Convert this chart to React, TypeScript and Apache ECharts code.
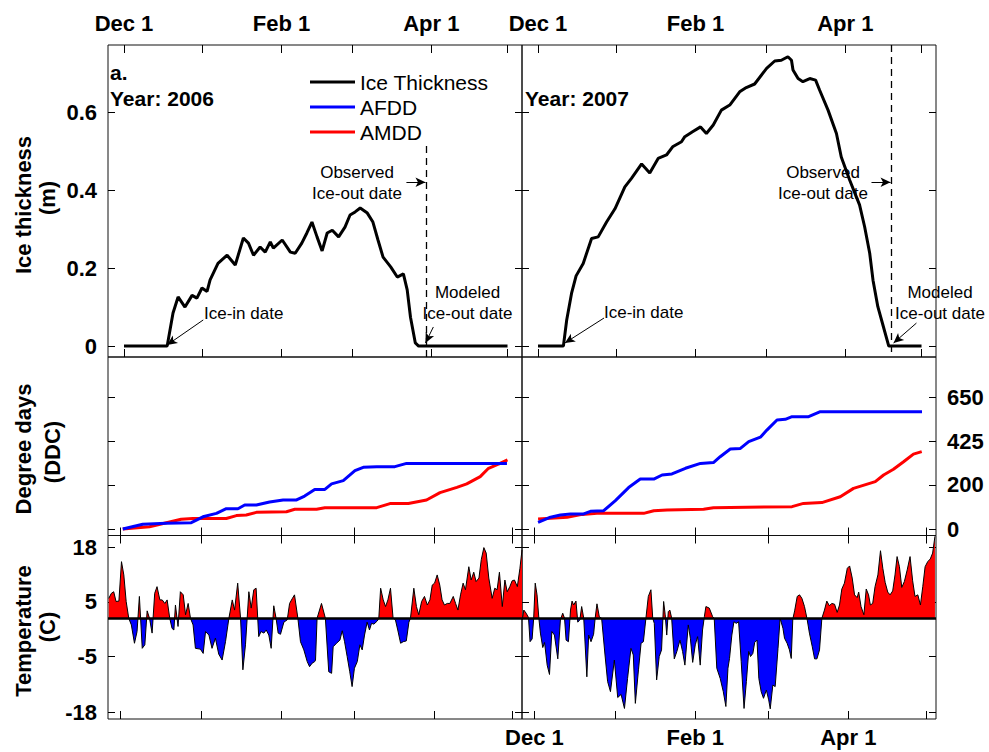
import React, { useEffect, useRef } from 'react';
import * as echarts from 'echarts';

const FONT = '"Liberation Sans", Arial, Helvetica, sans-serif';

// ---------- axes: ticks & labels ----------
const monthTickDays = [0, 31, 62, 90, 121, 151]; // Dec1, Jan1, Feb1, Mar1, Apr1, May1 (days since Dec 1)
const monthLabelDays = [0, 62, 121];
const monthLabels = ['Dec 1', 'Feb 1', 'Apr 1'];

const iceTicks = [0, 0.2, 0.4, 0.6];
const iceTickLabels = ['0', '0.2', '0.4', '0.6'];

const ddcTicks = [0, 216.7, 433.3, 650];
const ddcTickLabels = ['0', '200', '425', '650'];

const tempTicks = [18.15, 4.23, -9.82, -24.1];
const tempTickLabels = ['18', '5', '-5', '-18'];

// ---------- data: [day since Dec 1, value] ----------
const ice2006 = [
  [0, 0], [17, 0], [19.3, 0.085], [21.3, 0.126], [24, 0.1], [26.8, 0.13], [28.7, 0.123], [30.7, 0.149],
  [32.7, 0.14], [33.9, 0.17], [37, 0.212], [40.6, 0.233], [43.8, 0.208], [47, 0.277], [49, 0.264], [51, 0.233],
  [53.6, 0.254], [55.6, 0.241], [57.6, 0.267], [58.8, 0.251], [62.3, 0.272], [65.5, 0.241], [67.4, 0.238],
  [70, 0.264], [72, 0.29], [74, 0.318], [76, 0.28], [78, 0.244], [80, 0.29], [82, 0.297], [84.5, 0.28],
  [87, 0.305], [89, 0.336], [91, 0.344], [93, 0.354], [95.8, 0.341], [98, 0.318], [100, 0.272], [102, 0.228],
  [105, 0.203], [107.6, 0.177], [110, 0.185], [111.5, 0.144], [112.8, 0.074], [114.7, 0.008], [116, 0], [151, 0],
];
const ice2007 = [
  [0, 0], [10, 0], [11.3, 0.067], [13.2, 0.135], [15, 0.18], [17.8, 0.212], [21.1, 0.276], [23.7, 0.28],
  [27, 0.318], [30.3, 0.352], [34.2, 0.408], [36.8, 0.43], [40.8, 0.467], [44, 0.444], [47.3, 0.481],
  [50.6, 0.49], [53, 0.511], [56.5, 0.524], [57.8, 0.537], [61, 0.55], [64, 0.562], [66.3, 0.545], [69, 0.567],
  [72.2, 0.605], [75.5, 0.618], [79.4, 0.652], [82, 0.663], [85.3, 0.672], [90, 0.712], [93.2, 0.731],
  [95.8, 0.733], [98.4, 0.742], [99.8, 0.733], [100.4, 0.708], [102.4, 0.686], [104.3, 0.678], [107, 0.686],
  [109.3, 0.682], [110.9, 0.656], [114.2, 0.605], [117.5, 0.545], [119.4, 0.485], [122.7, 0.426],
  [126.6, 0.362], [128.6, 0.306], [130.6, 0.238], [131.9, 0.169], [133.8, 0.101], [135.8, 0.054], [138.1, 0],
  [151, 0],
];

const afdd2006 = [
  [0.9, 0], [8.6, 23], [17.6, 28], [27.3, 31], [31.8, 60], [37, 77], [40.8, 100], [45.3, 100], [47.9, 118],
  [52.4, 118], [57.5, 133], [62.7, 143], [67.9, 143], [71, 162], [74.9, 195], [78.8, 195], [81.4, 222],
  [85.9, 238], [90.4, 287], [93.6, 304], [98.8, 307], [105.8, 307], [110.3, 323], [149, 323],
];
const amdd2006 = [
  [0.9, 0], [11.2, 11], [23.4, 48], [27.9, 52], [40.8, 52], [44.7, 66], [48.5, 69], [52.4, 82], [64, 85],
  [67.2, 97], [75.6, 97], [78.8, 105], [98.8, 105], [103.9, 125], [111, 126], [118, 143], [123.2, 179],
  [129.7, 205], [133.5, 222], [138.7, 258], [141.9, 299], [145.7, 319], [149.2, 340],
];
const afdd2007 = [
  [1.4, 33], [6.2, 58], [10, 69], [13.9, 74], [19, 74], [21.6, 87], [26.7, 90], [31.2, 140], [36.3, 204],
  [40.8, 246], [46, 246], [49.2, 266], [53, 271], [58.2, 299], [64, 323], [69, 327], [71.6, 356], [75.5, 394],
  [79.4, 397], [82.6, 430], [87.1, 452], [89.6, 487], [93.5, 537], [96.7, 540], [99.3, 553], [105.7, 553],
  [110.2, 578], [149.4, 578],
];
const amdd2007 = [
  [1.4, 49], [12.6, 58], [18.4, 72], [24.1, 77], [42.1, 77], [46, 90], [51.1, 94], [65.2, 97], [69, 105],
  [99.3, 110], [103.7, 126], [110.8, 130], [117.9, 159], [123, 200], [131.4, 233], [134.6, 266], [138.4, 294],
  [142.3, 331], [146.1, 369], [149.3, 381],
];

const temp2006 = [
  [-4.5, 5.1], [-3.5, 6.4], [-2.6, 6.8], [-1.7, 4.3], [-0.6, 4.4], [0.4, 14.5], [1.3, 11.1], [2.2, 4.3], [3.2, 0],
  [4.2, -1.7], [5.4, -6.4], [6.4, -3.4], [7.3, 5.6], [8.4, -7.7], [9.4, -6.8], [10.3, 1.9], [11.2, 0], [12.2, -3.8],
  [13.2, 6.4], [14.1, 8.1], [15.2, 4.7], [16.1, 4.7], [17.1, 3.8], [18.0, 4.7], [19.0, 0], [19.9, -2.6],
  [20.6, -3.0], [21.2, 3.4], [22.2, -2.1], [23.1, 6.8], [24.2, 6.0], [25.1, 0.9], [26.1, 3.8], [27.0, 0],
  [28.0, -1.7], [28.9, -7.7], [30.8, -7.9], [31.9, -9.0], [32.8, -3.4], [34.1, -4.3], [35.3, -7.7], [36.6, -5.1],
  [37.9, -9.2], [39.2, -10.7], [40.5, -6.0], [41.8, 0], [43.1, 4.7], [44.0, 2.1], [45.2, 9.0], [46.3, 0],
  [47.2, -13.2], [48.2, -6.8], [49.5, 6.8], [50.4, 2.6], [51.4, 7.3], [52.3, 7.7], [53.3, -4.7], [54.2, -3.4],
  [55.3, -3.8], [56.2, -3.0], [57.2, -4.3], [58.1, -7.7], [59.1, 3.2], [60.0, 0], [60.8, -3.8], [61.7, -4.1],
  [63.0, -1.0], [64.3, -0.4], [65.2, 3.8], [66.2, 5.0], [67.1, 6.0], [68.4, 0], [69.4, -6.0], [70.7, -8.1],
  [72.0, -11.1], [72.9, -12.4], [73.9, -11.5], [74.9, -11.1], [75.2, -10.7], [75.8, 0], [77.5, 3.8], [79.0, 0],
  [80.3, -13.7], [81.4, -14.1], [82.0, -7.3], [83.3, -6.4], [84.6, -5.6], [85.5, -3.2], [86.4, -6.0], [87.4, -9.8],
  [88.4, -13.7], [89.3, -17.5], [90.2, -12.8], [91.3, -11.1], [92.3, -6.8], [93.2, -8.1], [94.1, -4.3],
  [95.1, -1.0], [96.0, -3.0], [96.8, -1.3], [97.7, -1.5], [99.0, -0.7], [99.6, 0], [100.3, 7.7], [101.3, 4.7],
  [102.2, 3.0], [103.1, 4.7], [104.1, 7.7], [105.1, 0], [106.0, -0.4], [106.9, -3.0], [108.0, -6.4], [109.0, -6.0],
  [110.2, -5.8], [111.2, -1.0], [111.8, 0], [113.1, 7.7], [114.1, 3.0], [115.0, 0.9], [116.1, 4.3], [117.2, 5.6],
  [118.3, 3.4], [119.3, 4.7], [120.2, 8.5], [121.1, 9.0], [122.1, 11.1], [123.1, 8.5], [124.0, 4.7], [124.9, 3.4],
  [126.0, 3.8], [127.0, 3.8], [128.3, 5.6], [129.2, 3.8], [130.1, 2.1], [131.1, 6.0], [132.1, 9.0], [133.0, 7.3],
  [134.3, 13.2], [135.2, 9.8], [136.2, 11.8], [137.1, 9.4], [138.2, 10.3], [139.1, 15.0], [140.1, 18.1],
  [141.0, 16.7], [142.0, 10.3], [143.3, 5.1], [144.3, 7.7], [145.2, 7.3], [146.1, 11.8], [147.2, 3.0],
  [148.2, 9.8], [149.1, 6.8], [150.1, 8.1], [151.0, 9.6], [151.9, 9.8], [153.0, 8.1], [154.0, 12.8], [154.8, 17.5],
];
const temp2007 = [
  [-4.7, -0.4], [-4.1, 2.1], [-3.2, 1.3], [-2.3, 0.2], [-1.7, -6.0], [-0.9, -5.3], [-0.3, 0], [0.3, 9.0], [1.0, 6.0],
  [1.7, 0], [2.3, -3.8], [3.2, -7.5], [3.9, -6.2], [4.9, -12.0], [5.8, -14.4], [6.7, -3.4], [7.7, -4.3],
  [9.0, -10.4], [10.0, -0.4], [10.9, 1.3], [11.6, 0], [12.2, -5.6], [13.1, -6.0], [13.9, 2.1], [14.5, 4.4],
  [15.1, 3.4], [16.0, 4.4], [16.7, -1.0], [17.5, -0.4], [18.2, 3.0], [19.0, 0], [20.2, -15.0], [20.9, -4.3],
  [21.8, -6.0], [22.8, -4.1], [23.4, 0], [24.1, 3.7], [25.0, 0.4], [25.9, 0], [27.2, -9.4], [28.2, -16.2],
  [29.3, -18.8], [30.8, -10.7], [32.1, -20.3], [33.4, -19.5], [34.7, -23.1], [35.9, -15.4], [37.2, -7.7],
  [38.1, -9.4], [38.9, -21.8], [40.1, -13.2], [41.1, -6.4], [42.0, -6.0], [43.0, 0.2], [43.9, 5.6], [44.9, 7.3],
  [45.6, 0], [46.2, -1.3], [47.1, -15.8], [48.1, -9.8], [49.0, -8.1], [49.8, 4.3], [50.4, 0.9], [51.0, -4.3],
  [51.6, 1.7], [52.2, 2.1], [52.9, 0], [53.9, -10.4], [54.9, -8.5], [56.1, -5.6], [57.1, -8.5], [58.0, -12.0],
  [59.3, -1.7], [60.1, -5.1], [61.0, -11.3], [62.0, -6.8], [62.9, -4.7], [63.9, -12.0], [64.8, -3.0], [65.5, 0.4],
  [66.1, 3.0], [67.4, 2.6], [68.7, 0.4], [69.3, 0], [70.3, -12.8], [71.6, -15.4], [72.8, -18.8], [73.8, -22.6],
  [74.6, -12.8], [75.2, -10.3], [76.1, -4.3], [76.9, -0.9], [77.8, -1.3], [78.7, -0.9], [79.7, -11.1],
  [80.8, -23.1], [81.7, -16.2], [82.6, -8.5], [83.3, -9.8], [84.2, -9.0], [84.9, -6.2], [85.8, -5.6], [86.5, -15.4],
  [87.4, -18.8], [88.3, -20.5], [89.4, -18.4], [90.3, -20.9], [90.9, -23.2], [91.9, -17.1], [92.8, -17.5],
  [93.9, -7.7], [94.7, 0], [95.8, -2.6], [96.4, -5.1], [97.4, -6.4], [98.3, -8.1], [99.0, -10.3], [99.6, -0.2],
  [100.3, 1.9], [101.3, 5.6], [102.2, 6.0], [103.1, 5.1], [104.1, 3.0], [105.1, -0.2], [106.0, -3.8],
  [107.1, -7.3], [108.0, -10.4], [108.9, -10.4], [109.9, -8.1], [110.8, 0], [111.8, 2.1], [112.7, 4.4],
  [113.7, 3.2], [114.6, 3.8], [115.7, 3.6], [116.7, 1.5], [117.6, 3.4], [118.5, 7.5], [119.5, 9.0], [120.6, 12.8],
  [121.5, 13.4], [122.5, 10.3], [123.4, 6.0], [124.4, 5.3], [125.0, 6.7], [125.9, 3.0], [127.0, 0.9], [127.9, 7.5],
  [128.8, 6.0], [129.5, 3.4], [130.4, 3.8], [131.3, 8.1], [132.4, 11.1], [133.4, 17.3], [134.3, 12.8],
  [135.2, 9.2], [136.2, 6.7], [137.1, 6.0], [138.1, 7.0], [139.0, 11.1], [139.8, 15.8], [140.7, 13.2],
  [141.6, 7.9], [142.6, 9.4], [143.7, 12.4], [144.8, 15.8], [145.8, 9.6], [146.7, 5.6], [147.8, 6.0], [148.8, 3.4],
  [149.7, 8.1], [150.6, 13.2], [151.6, 14.5], [152.6, 15.2], [153.5, 16.7], [154.4, 21.0],
];

// annotation anchor points in data coordinates [day, thickness]
const obsIceOut2006 = 119.1;
const obsIceOut2007 = 139.2;
const arrows2006 = [
  [[111.2, 0.42], [118.7, 0.42]],
  [[121.8, 0.049], [118.7, 0.008]],
  [[31.2, 0.067], [17.0, 0.003]],
];
const arrows2007 = [
  [[131.3, 0.42], [138.8, 0.42]],
  [[149.0, 0.059], [140.0, 0.008]],
  [[26.0, 0.072], [10.6, 0.008]],
];

const nearest = (ticks: number[], labels: string[]) => (v: number) => {
  let b = 0;
  for (let i = 1; i < ticks.length; i++) if (Math.abs(ticks[i] - v) < Math.abs(ticks[b] - v)) b = i;
  return labels[b];
};

function buildOption() {
  const ICE_Y = [-0.028, 0.772];
  const DDC_Y = [-32, 847];
  const TEMP_Y = [-25.8, 21.2];
  const XA = [-6.3, 156.7];
  const XB = [-4.8, 154.8];
  const panels = [
    { left: 108, top: 45, h: 312, x: XA, y: ICE_Y, yt: iceTicks, yl: iceTickLabels, L: true, R: false, T: true, B: false, topTicks: true },
    { left: 522, top: 45, h: 312, x: XA, y: ICE_Y, yt: iceTicks, yl: iceTickLabels, L: false, R: false, T: true, B: false, topTicks: true },
    { left: 108, top: 357, h: 178.5, x: XB, y: DDC_Y, yt: ddcTicks, yl: ddcTickLabels, L: false, R: false, T: false, B: false, topTicks: false },
    { left: 522, top: 357, h: 178.5, x: XB, y: DDC_Y, yt: ddcTicks, yl: ddcTickLabels, L: false, R: true, T: false, B: false, topTicks: false },
    { left: 108, top: 535.5, h: 183.5, x: XB, y: TEMP_Y, yt: tempTicks, yl: tempTickLabels, L: true, R: false, T: false, B: false, topTicks: true },
    { left: 522, top: 535.5, h: 183.5, x: XB, y: TEMP_Y, yt: tempTicks, yl: tempTickLabels, L: false, R: false, T: false, B: true, topTicks: true },
  ];
  const labelFont = { fontFamily: FONT, fontSize: 22, fontWeight: 'bold' as const, color: '#000' };
  const tick = (len: number, vals: number[], show = true) => ({
    show, inside: true, length: len, customValues: vals, lineStyle: { color: '#000', width: 1 },
  });
  const monthFmt = nearest(monthLabelDays, monthLabels);
  const noLine = { show: false, onZero: false };

  const grid: any[] = [];
  const xAxis: any[] = [];
  const yAxis: any[] = [];
  panels.forEach((p, i) => {
    grid.push({ left: p.left, top: p.top, width: 414, height: p.h, show: true, borderColor: '#111', borderWidth: 1, backgroundColor: 'transparent', containLabel: false });
    const yFmt = nearest(p.yt, p.yl);
    const xBase = { type: 'value', gridIndex: i, min: p.x[0], max: p.x[1], axisLine: noLine, splitLine: { show: false } };
    xAxis.push({ ...xBase, position: 'bottom', axisTick: tick(8, monthTickDays),
      axisLabel: { show: p.B, customValues: monthLabelDays, formatter: monthFmt, margin: 7, ...labelFont } });
    xAxis.push({ ...xBase, position: 'top', axisTick: tick(8, monthTickDays, p.topTicks),
      axisLabel: { show: p.T, customValues: monthLabelDays, formatter: monthFmt, margin: 11, ...labelFont } });
    const yBase = { type: 'value', gridIndex: i, min: p.y[0], max: p.y[1], axisLine: noLine, splitLine: { show: false } };
    yAxis.push({ ...yBase, position: 'left', axisTick: tick(7, p.yt),
      axisLabel: { show: p.L, customValues: p.yt, formatter: yFmt, margin: 11, ...labelFont } });
    yAxis.push({ ...yBase, position: 'right', axisTick: tick(7, p.yt),
      axisLabel: { show: p.R, customValues: p.yt, formatter: yFmt, margin: 11, ...labelFont } });
  });

  const iceMarks = (obs: number, top: number, arrows: number[][][]) => ({
    silent: true,
    symbol: ['none', 'none'],
    label: { show: false },
    lineStyle: { color: '#000', width: 1, type: 'solid' },
    data: [
      [
        { coord: [obs, top], lineStyle: { color: '#000', width: 1.3, type: [7, 5] } },
        { coord: [obs, ICE_Y[0]] },
      ],
      ...arrows.map((a) => [
        { coord: [a[0][0], a[0][1]], symbol: 'none' },
        { coord: [a[1][0], a[1][1]], symbol: 'arrow', symbolSize: [7, 10] },
      ]),
    ],
  });

  const baseline = () => ({
    silent: true, symbol: ['none', 'none'], label: { show: false },
    lineStyle: { color: '#000', width: 2.5, type: 'solid' }, data: [{ yAxis: 0 }],
  });

  const line = (name: string, data: number[][], gi: number, color: string, width: number, extra: any = {}) => ({
    type: 'line', name, data, xAxisIndex: gi * 2, yAxisIndex: gi * 2, showSymbol: false, symbol: 'none',
    lineStyle: { color, width }, itemStyle: { color }, z: 3, ...extra,
  });

  const series: any[] = [
    line('Ice Thickness', ice2006, 0, '#000', 3, { markLine: iceMarks(obsIceOut2006, 0.513, arrows2006) }),
    line('Ice Thickness', ice2007, 1, '#000', 3, { markLine: iceMarks(obsIceOut2007, ICE_Y[1], arrows2007) }),
    line('AMDD', amdd2006, 2, '#ff0000', 3),
    line('AFDD', afdd2006, 2, '#0000ff', 3),
    line('AMDD', amdd2007, 3, '#ff0000', 3),
    line('AFDD', afdd2007, 3, '#0000ff', 3),
    { type: 'line', name: 'Temperature fill 2006', data: temp2006, xAxisIndex: 8, yAxisIndex: 8, showSymbol: false, symbol: 'none',
      lineStyle: { width: 0 }, areaStyle: { opacity: 1 }, z: 1 },
    line('Temperature 2006', temp2006, 4, '#000', 1, { markLine: baseline() }),
    { type: 'line', name: 'Temperature fill 2007', data: temp2007, xAxisIndex: 10, yAxisIndex: 10, showSymbol: false, symbol: 'none',
      lineStyle: { width: 0 }, areaStyle: { opacity: 1 }, z: 1 },
    line('Temperature 2007', temp2007, 5, '#000', 1, { markLine: baseline() }),
  ];

  const txt = (text: string, x: number, y: number, size: number, bold: boolean, align = 'center', rot = 0, lh?: number) => ({
    type: 'text', x, y, rotation: rot, z: 10,
    style: { text, fontFamily: FONT, fontSize: size, fontWeight: bold ? 'bold' : 'normal', fill: '#000', align, verticalAlign: 'middle', lineHeight: lh },
  });
  const R = Math.PI / 2;
  const graphic = [
    txt('Ice thickness', 23, 205, 22, true, 'center', R),
    txt('(m)', 47, 198, 22, true, 'center', R),
    txt('Degree days', 23, 449, 22, true, 'center', R),
    txt('(DDC)', 52, 452, 22, true, 'center', R),
    txt('Temperature', 23, 631, 22, true, 'center', R),
    txt('(C)', 47, 627, 22, true, 'center', R),
    txt('a.', 110, 72, 21, true, 'left'),
    txt('Year: 2006', 110, 98, 21, true, 'left'),
    txt('Year: 2007', 525, 98, 21, true, 'left'),
    txt('Observed\nIce-out date', 357, 182.5, 17, false, 'center', 0, 21),
    txt('Modeled\nIce-out date', 467.5, 302.5, 17, false, 'center', 0, 21),
    txt('Ice-in date', 204, 313, 17, false, 'left'),
    txt('Observed\nIce-out date', 823, 182.5, 17, false, 'center', 0, 21),
    txt('Modeled\nIce-out date', 940, 302.5, 17, false, 'center', 0, 21),
    txt('Ice-in date', 604, 312, 17, false, 'left'),
  ];

  return {
    animation: false,
    backgroundColor: '#fff',
    grid,
    xAxis,
    yAxis,
    series,
    visualMap: {
      show: false, type: 'piecewise', seriesIndex: [6, 8], dimension: 1,
      pieces: [
        { lt: -60, color: '#0000ff' },
        { gte: -60, lt: 0, color: '#0000ff' },
        { gte: 0, lt: 60, color: '#ff0000' },
        { gte: 60, color: '#ff0000' },
      ],
    },
    legend: {
      data: ['Ice Thickness', 'AFDD', 'AMDD'], orient: 'vertical', left: 310, top: 71.5, padding: 0, itemGap: 4,
      itemWidth: 45, itemHeight: 3, icon: 'rect', selectedMode: false,
      textStyle: { fontFamily: FONT, fontSize: 21, color: '#000' },
    },
    graphic,
  };
}

export default function App() {
  const ref = useRef<HTMLDivElement>(null);
  useEffect(() => {
    const chart = echarts.init(ref.current!, null, { renderer: 'svg' });
    chart.setOption(buildOption() as any);
    return () => chart.dispose();
  }, []);
  return <div ref={ref} style={{ position: 'fixed', left: 0, top: 0, width: 989, height: 752, background: '#fff' }} />;
}
